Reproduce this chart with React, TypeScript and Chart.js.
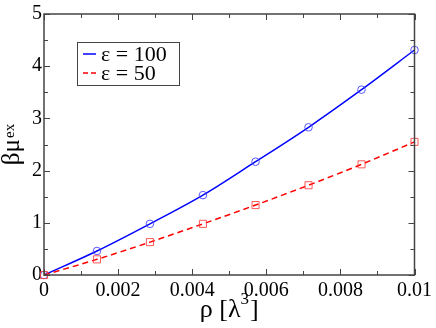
import React, { useEffect, useRef } from 'react';
import { Chart, registerables } from 'chart.js';
Chart.register(...registerables);

const rho = [0, 0.00143, 0.00286, 0.00429, 0.00571, 0.00714, 0.00857, 0.01];
const eps100 = [0, 0.46, 0.98, 1.53, 2.17, 2.83, 3.55, 4.31];
const eps50 = [0, 0.3, 0.63, 0.98, 1.34, 1.72, 2.12, 2.55];
const xTicks = [0, 0.002, 0.004, 0.006, 0.008, 0.01];
const xMinorTicks = [0.001, 0.003, 0.005, 0.007, 0.009];
const yTicks = [0, 1, 2, 3, 4, 5];
const yMinorTicks = [0.5, 1.5, 2.5, 3.5, 4.5];
const seriesLabels = ['ε = 100', 'ε = 50'];

const SERIF = '"Liberation Serif", "Times New Roman", "DejaVu Serif", serif';
const FRAME = '#444';

const decorPlugin = {
  id: 'decor',
  afterDraw(chart: any) {
    const ctx = chart.ctx as CanvasRenderingContext2D;
    const { left, right, top, bottom } = chart.chartArea;
    const xs = chart.scales.x;
    const ys = chart.scales.y;
    ctx.save();
    ctx.strokeStyle = FRAME;
    ctx.lineWidth = 1.5;
    ctx.strokeRect(left, top, right - left, bottom - top);
    ctx.lineWidth = 1;
    ctx.beginPath();
    const xt = (v: number, len: number) => {
      const p = Math.round(xs.getPixelForValue(v)) + 0.5;
      ctx.moveTo(p, bottom);
      ctx.lineTo(p, bottom - len);
      ctx.moveTo(p, top);
      ctx.lineTo(p, top + len);
    };
    const yt = (v: number, len: number) => {
      const p = Math.round(ys.getPixelForValue(v)) + 0.5;
      ctx.moveTo(left, p);
      ctx.lineTo(left + len, p);
      ctx.moveTo(right, p);
      ctx.lineTo(right - len, p);
    };
    xTicks.forEach((v) => xt(v, 6));
    xMinorTicks.forEach((v) => xt(v, 4));
    yTicks.forEach((v) => yt(v, 6));
    yMinorTicks.forEach((v) => yt(v, 4));
    ctx.stroke();

    // legend
    const lx = 77.5, ly = 42.5, lw = 102, lh = 43;
    ctx.strokeStyle = FRAME;
    ctx.lineWidth = 1;
    ctx.strokeRect(lx, ly, lw, lh);
    const rows = [
      { y: 54, color: '#0000ff', dash: [] as number[] },
      { y: 73, color: '#ff0000', dash: [5, 3] },
    ];
    ctx.font = `22px ${SERIF}`;
    ctx.textBaseline = 'middle';
    ctx.textAlign = 'left';
    rows.forEach((r, i) => {
      ctx.strokeStyle = r.color;
      ctx.lineWidth = 1.5;
      ctx.setLineDash(r.dash);
      ctx.beginPath();
      ctx.moveTo(83, r.y);
      ctx.lineTo(96, r.y);
      ctx.stroke();
      ctx.setLineDash([]);
      ctx.fillStyle = '#000';
      ctx.fillText(seriesLabels[i], 101, r.y + 1);
    });

    // x axis title: ρ [λ^3]
    ctx.fillStyle = '#000';
    ctx.textBaseline = 'alphabetic';
    const mainF = `26px ${SERIF}`;
    const supF = `17px ${SERIF}`;
    ctx.font = mainF;
    const a = 'ρ [λ';
    const c = ']';
    const wa = ctx.measureText(a).width;
    const wc = ctx.measureText(c).width;
    ctx.font = supF;
    const wb = ctx.measureText('3').width;
    const total = wa + wb + wc + 1;
    const x0 = (left + right) / 2 - total / 2;
    const by = 317;
    ctx.font = mainF;
    ctx.fillText(a, x0, by);
    ctx.font = supF;
    ctx.fillText('3', x0 + wa, by - 13);
    ctx.font = mainF;
    ctx.fillText(c, x0 + wa + wb + 1, by);

    // y axis title: βμ^ex
    ctx.save();
    ctx.translate(19, (top + bottom) / 2);
    ctx.rotate(-Math.PI / 2);
    const yMain = `25px ${SERIF}`;
    const ySup = `15px ${SERIF}`;
    ctx.font = yMain;
    const w1 = ctx.measureText('βμ').width;
    ctx.font = ySup;
    const w2 = ctx.measureText('ex').width;
    const t = w1 + w2 + 1;
    ctx.font = yMain;
    ctx.fillText('βμ', -t / 2, 0);
    ctx.font = ySup;
    ctx.fillText('ex', -t / 2 + w1 + 1, -5);
    ctx.restore();

    ctx.restore();
  },
};

export default function App() {
  const ref = useRef<HTMLCanvasElement>(null);
  useEffect(() => {
    if (!ref.current) return;
    const chart = new Chart(ref.current, {
      type: 'line',
      data: {
        datasets: [
          {
            label: seriesLabels[1],
            data: rho.map((x, i) => ({ x, y: eps50[i] })),
            borderColor: '#ff0000',
            borderWidth: 1.5,
            borderDash: [6, 4],
            pointStyle: 'rect',
            pointRadius: 5,
            pointBorderColor: 'rgba(255,60,60,0.85)',
            pointBorderWidth: 1,
            pointBackgroundColor: 'rgba(0,0,0,0)',
            cubicInterpolationMode: 'monotone',
            fill: false,
            clip: false as any,
          },
          {
            label: seriesLabels[0],
            data: rho.map((x, i) => ({ x, y: eps100[i] })),
            borderColor: '#0000ff',
            borderWidth: 1.5,
            pointStyle: 'circle',
            pointRadius: 3.8,
            pointBorderColor: 'rgba(60,60,255,0.85)',
            pointBorderWidth: 1,
            pointBackgroundColor: 'rgba(0,0,0,0)',
            cubicInterpolationMode: 'monotone',
            fill: false,
            clip: false as any,
          },
        ],
      },
      options: {
        animation: false,
        responsive: false,
        devicePixelRatio: 1,
        layout: { padding: { top: 8, right: 17, left: 0, bottom: 0 } },
        plugins: { legend: { display: false }, tooltip: { enabled: false } },
        scales: {
          x: {
            type: 'linear',
            min: 0,
            max: 0.01,
            grid: { display: false, drawTicks: false },
            border: { display: false },
            afterBuildTicks: (s: any) => {
              s.ticks = xTicks.map((v) => ({ value: v }));
            },
            afterFit: (s: any) => {
              s.height = 53;
            },
            ticks: {
              padding: 4,
              color: '#000',
              font: { family: SERIF, size: 20 },
              maxRotation: 0,
              autoSkip: false,
              callback: (v: any) => String(parseFloat(Number(v).toFixed(4))),
            },
          },
          y: {
            type: 'linear',
            min: 0,
            max: 5,
            grid: { display: false, drawTicks: false },
            border: { display: false },
            afterBuildTicks: (s: any) => {
              s.ticks = yTicks.map((v) => ({ value: v }));
            },
            afterFit: (s: any) => {
              s.width = 44;
            },
            ticks: {
              padding: 2,
              color: '#000',
              font: { family: SERIF, size: 20 },
              autoSkip: false,
              callback: (v: any) => String(v),
            },
          },
        },
      },
      plugins: [decorPlugin],
    });
    let alive = true;
    const fonts: any = (document as any).fonts;
    if (fonts && fonts.load) {
      Promise.all([
        fonts.load('20px "Liberation Serif"', 'βμρλε0123456789.[]='),
        fonts.load('20px "Times New Roman"', 'βμρλε0123456789.[]='),
      ])
        .catch(() => null)
        .then(() => {
          if (alive) chart.update();
        });
    }
    return () => {
      alive = false;
      chart.destroy();
    };
  }, []);
  return (
    <div style={{ position: 'absolute', left: 0, top: 0, width: 436, height: 328, background: '#fff' }}>
      <canvas ref={ref} width={436} height={328} style={{ display: 'block' }} />
      <span style={{ position: 'absolute', left: 0, top: 0, opacity: 0, fontFamily: SERIF, fontSize: 20, pointerEvents: 'none' }}>
        βμρλε 0.002
      </span>
    </div>
  );
}
